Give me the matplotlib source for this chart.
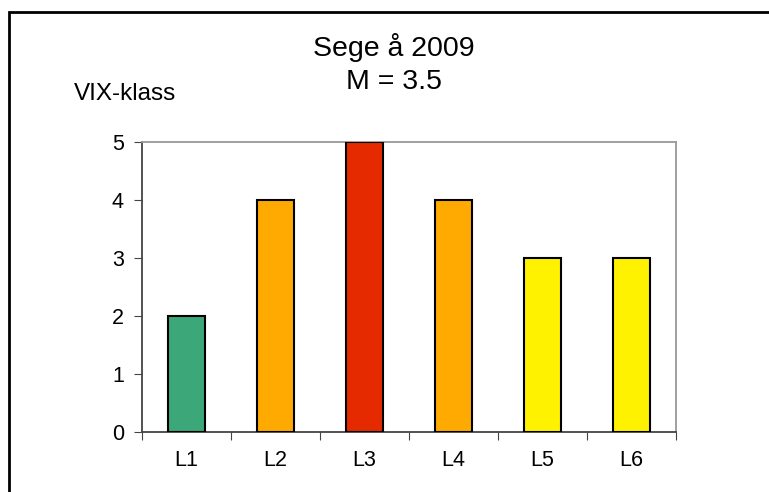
import matplotlib
matplotlib.use("Agg")
import matplotlib.pyplot as plt
from matplotlib.patches import Rectangle

plt.rcParams['font.family'] = ['Liberation Sans', 'DejaVu Sans']

# data
stations = ["L1", "L2", "L3", "L4", "L5", "L6"]
vix = [2, 4, 5, 4, 3, 3]
colors = ["#3ca87a", "#ffaa00", "#e62a00", "#ffaa00", "#fff200", "#fff200"]
title1 = "Sege å 2009"
title2 = "M = 3.5"

W, H = 769, 492
fig = plt.figure(figsize=(W / 100, H / 100), dpi=100)

# outer frame (runs off the right and bottom of the picture)
fig.patches.append(Rectangle((9 / W, -0.1), 1.0, 1 - 12 / H + 0.1,
                             transform=fig.transFigure, fill=False,
                             edgecolor="black", linewidth=2.0))

ax = fig.add_axes([142 / W, 1 - 432 / H, (676 - 142) / W, (432 - 142) / H])
x = list(range(len(stations)))
ax.bar(x, vix, width=0.42, color=colors, edgecolor="black", linewidth=1.5, zorder=3)

ax.set_xlim(-0.5, len(stations) - 0.5)
ax.set_ylim(0, 5)
ax.set_yticks(range(6))
ax.set_yticklabels([str(v) for v in range(6)], fontsize=15.5)
ax.set_xticks([i - 0.5 for i in range(len(stations) + 1)])
ax.set_xticklabels([])
ax.set_xticks(x, minor=True)
ax.set_xticklabels(stations, minor=True, fontsize=15.5)
ax.tick_params(axis="x", which="minor", length=0, pad=13)
ax.tick_params(axis="x", which="major", length=6, direction="out", color="#444444")
ax.tick_params(axis="y", length=6, direction="out", color="#444444", pad=7)

for s in ["left", "bottom"]:
    ax.spines[s].set_color("#444444")
    ax.spines[s].set_linewidth(1.3)
for s in ["top", "right"]:
    ax.spines[s].set_color("#999999")
    ax.spines[s].set_linewidth(1.3)

fig.text(394 / W, 1 - 56 / H, title1, ha="center", va="baseline", fontsize=20.5)
fig.text(394 / W, 1 - 89 / H, title2, ha="center", va="baseline", fontsize=20.5)
fig.text(74 / W, 1 - 100 / H, "VIX-klass", ha="left", va="baseline", fontsize=17.5)

fig.savefig("out.png", dpi=100)
